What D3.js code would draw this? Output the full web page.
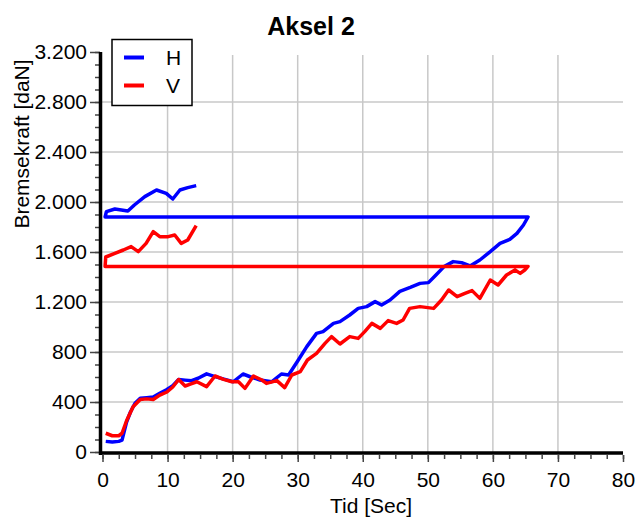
<!DOCTYPE html>
<html><head><meta charset="utf-8">
<script src="https://cdn.jsdelivr.net/npm/d3@7"></script>
<style>body{margin:0;background:#fff}svg{display:block;font-family:"Liberation Sans",Arial,sans-serif}</style>
</head><body><svg id="c" width="640" height="518"></svg>
<script>
// ---- data ----
const title = "Aksel 2";
const xLabel = "Tid [Sec]";
const yLabel = "Bremsekraft [daN]";
const seriesNames = ["H", "V"];
const xTicks = [0,10,20,30,40,50,60,70,80];
const yTicks = [0,400,800,1200,1600,2000,2400,2800,3200];

const hTime = [0.5,1.5,2.5,3.0,3.7,4.3,5.0,5.8,6.8,7.8,8.8,9.9,10.8,11.7,12.7,13.7,14.7,16.0,17.3,18.8,20.1,21.6,22.7,24.2,26.0,27.5,28.6,29.9,31.4,32.9,33.9,35.5,36.5,38.0,39.3,40.6,41.9,42.9,44.2,45.7,47.3,48.8,50.1,51.1,52.5,53.9,55.2,56.5,58.0,59.6,61.1,62.6,63.7,64.7,65.4,
  0.4,0.6,1.9,3.9,4.9,6.5,8.3,9.8,10.8,11.9,13.1,14.4];
const hValues = [85,80,85,95,240,320,390,430,435,440,470,500,530,580,575,570,590,625,603,581,562,624,602,576,562,624,616,720,843,949,963,1029,1043,1096,1149,1163,1203,1176,1216,1285,1317,1349,1355,1408,1483,1523,1515,1488,1536,1603,1669,1701,1749,1816,1880,
  1880,1923,1944,1928,1976,2043,2096,2069,2024,2096,2115,2131];

const vTime = [0.5,1.5,2.5,3.0,3.7,4.7,5.8,6.8,7.8,8.8,9.9,10.8,11.7,12.7,13.6,14.5,16.0,17.3,18.6,19.9,20.9,21.9,23.2,24.5,25.2,26.8,28.0,29.1,30.4,31.5,32.9,34.2,35.2,36.5,38.0,39.3,40.3,41.4,42.7,43.9,45.2,46.2,47.2,48.8,50.9,52.1,53.2,54.5,55.7,56.8,58.0,59.6,60.8,62.1,63.4,64.2,64.9,65.4,
  0.4,0.5,1.9,3.2,4.4,5.5,6.7,7.8,8.8,10.1,11.1,12.1,13.1,14.4];
const vValues = [150,130,130,150,250,362,420,425,420,455,480,520,580,528,545,562,523,608,581,562,562,509,608,576,549,571,515,616,643,736,789,869,923,864,923,909,963,1029,989,1051,1029,1056,1149,1163,1149,1216,1296,1243,1269,1291,1229,1376,1336,1416,1456,1429,1456,1485,
  1485,1560,1589,1616,1643,1603,1669,1763,1723,1723,1736,1669,1696,1811];

const colors = ["#0000ff", "#ff0000"];

// ---- chart ----
const svg = d3.select("#c");
const x = d3.scaleLinear().domain([0,80]).range([102.5,623]);
const y = d3.scaleLinear().domain([0,3200]).range([452,52]);
const loc = d3.formatLocale({decimal:",", thousands:".", grouping:[3], currency:["",""]});
const fmt = loc.format(",");

// grid
svg.append("g").selectAll("line").data(xTicks.filter(d=>d>0&&d<80)).join("line")
  .attr("x1",d=>x(d)).attr("x2",d=>x(d)).attr("y1",y(3200)+3).attr("y2",y(0))
  .attr("stroke","#c8c8c8").attr("stroke-width",1.5);
svg.append("g").selectAll("line").data(yTicks.filter(d=>d>0&&d<3200)).join("line")
  .attr("x1",101).attr("x2",x(80)).attr("y1",d=>y(d)).attr("y2",d=>y(d))
  .attr("stroke","#c8c8c8").attr("stroke-width",1.5);

// axes
const fs = 21;
const yMinor = svg.append("g").attr("transform","translate(100,0)")
  .call(d3.axisLeft(y).tickValues(d3.range(0,3201,100)).tickSize(5).tickFormat(""));
const yMajor = svg.append("g").attr("transform","translate(100,0)")
  .call(d3.axisLeft(y).tickValues(yTicks).tickSize(10).tickPadding(3).tickFormat(fmt));
const xMinor = svg.append("g").attr("transform","translate(0,455)")
  .call(d3.axisBottom(x).tickValues(d3.range(0,80.1,2.5)).tickSize(4).tickFormat(""));
const xMajor = svg.append("g").attr("transform","translate(0,455)")
  .call(d3.axisBottom(x).tickValues(xTicks).tickSize(7).tickPadding(10));
[yMinor,yMajor,xMinor,xMajor].forEach(g=>{
  g.select(".domain").remove();
  g.selectAll("line").attr("stroke","#444").attr("stroke-width",1.5);
  g.selectAll("text").attr("font-size",fs).attr("font-family","Liberation Sans, Arial, sans-serif").attr("fill","#000");
});
svg.append("line").attr("x1",100.5).attr("x2",100.5).attr("y1",52).attr("y2",455).attr("stroke","#000").attr("stroke-width",3.5);
svg.append("line").attr("x1",99).attr("x2",x(80)).attr("y1",453).attr("y2",453).attr("stroke","#000").attr("stroke-width",3.5);

// lines
const line = d3.line().x(d=>x(d[0])).y(d=>y(d[1]));
const series = [d3.zip(hTime,hValues), d3.zip(vTime,vValues)];
series.forEach((s,i)=>{
  svg.append("path").datum(s).attr("d",line).attr("fill","none")
    .attr("stroke",colors[i]).attr("stroke-width",3.5).attr("stroke-linejoin","round");
});

// title & labels
svg.append("text").attr("x",311).attr("y",35).attr("text-anchor","middle")
  .attr("font-size",25).attr("font-weight","bold").text(title);
svg.append("text").attr("x",371).attr("y",513).attr("text-anchor","middle")
  .attr("font-size",fs).text(xLabel);
svg.append("text").attr("transform","translate(29,144) rotate(-90)").attr("text-anchor","middle")
  .attr("font-size",fs).text(yLabel);

// legend
const lg = svg.append("g");
lg.append("rect").attr("x",112).attr("y",39.5).attr("width",80).attr("height",66)
  .attr("fill","#fff").attr("stroke","#000").attr("stroke-width",1.5);
seriesNames.forEach((n,i)=>{
  const yy = 57.5 + i*28;
  lg.append("line").attr("x1",124).attr("x2",144).attr("y1",yy).attr("y2",yy)
    .attr("stroke",colors[i]).attr("stroke-width",4);
  lg.append("text").attr("x",166).attr("y",yy+7.5).attr("font-size",fs).text(n);
});
</script></body></html>
